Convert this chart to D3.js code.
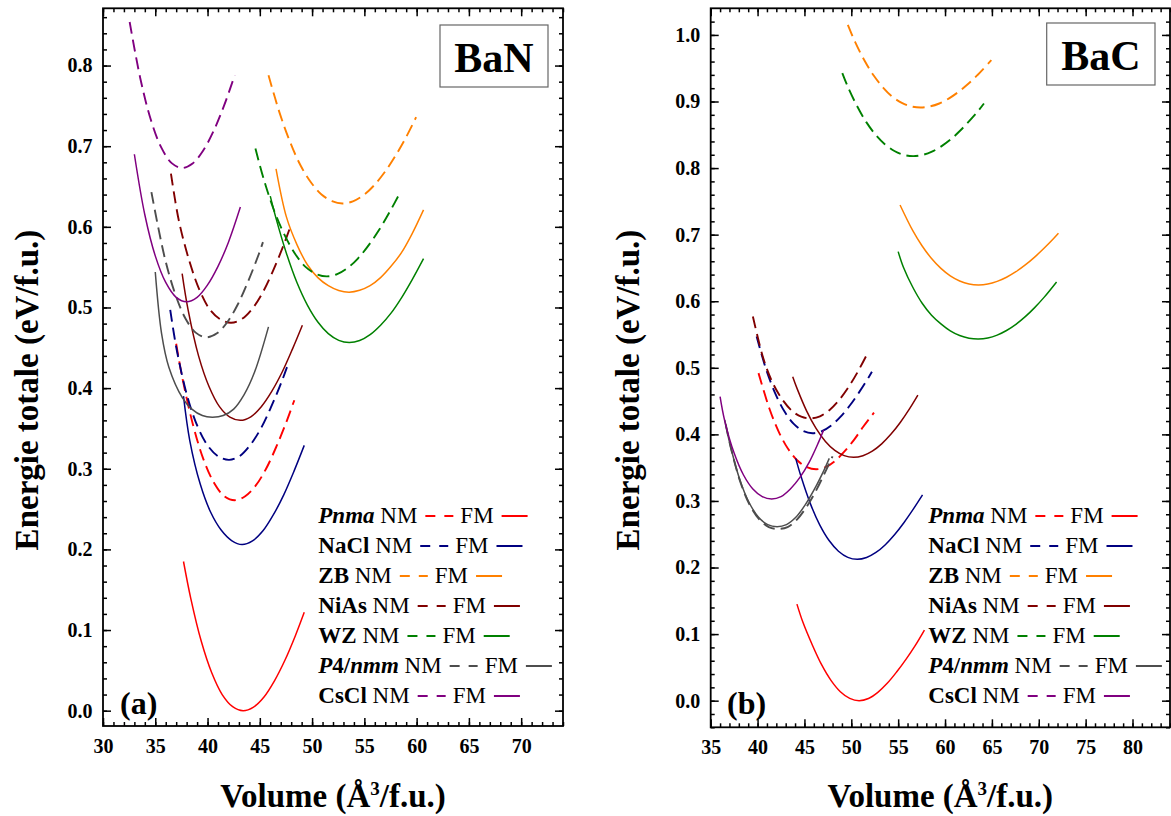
<!DOCTYPE html>
<html><head><meta charset="utf-8">
<script src="https://cdn.jsdelivr.net/npm/d3@7"></script>
<style>
body{margin:0;background:#fff}
svg{display:block}
text{font-family:"Liberation Serif","Times New Roman",serif;white-space:pre}
</style>
</head><body>
<svg id="c" width="1171" height="816"></svg>
<script>
// ---------- DATA (Volume Å^3/f.u., Energy eV/f.u.) ----------
const structures = ["Pnma","NaCl","ZB","NiAs","WZ","P4/nmm","CsCl"];

// BaN panel (a)
const BaN_Pnma_NM = [[37.0,0.455],[37.6,0.412],[38.6,0.355],[39.6,0.312],[40.6,0.283],[41.6,0.266],[42.6,0.261],[43.6,0.266],[44.6,0.279],[45.6,0.300],[46.6,0.328],[47.6,0.360],[48.3,0.385]];
const BaN_Pnma_FM = [[37.7,0.185],[38.4,0.139],[39.4,0.086],[40.4,0.047],[41.4,0.02],[42.4,0.005],[43.4,0.0],[44.4,0.0045],[45.4,0.017],[46.4,0.037],[47.4,0.0625],[48.4,0.093],[49.25,0.122]];
const BaN_NaCl_NM = [[36.43,0.497],[37.06,0.447],[38.06,0.39],[39.06,0.352],[40.06,0.328],[41.06,0.315],[42.06,0.311],[43.06,0.3156],[44.06,0.329],[45.06,0.349],[46.06,0.376],[47.06,0.407],[47.6,0.426]];
const BaN_NaCl_FM = [[37.7,0.39],[38.3,0.335],[39.3,0.281],[40.3,0.246],[41.3,0.224],[42.3,0.211],[43.3,0.206],[44.3,0.2105],[45.3,0.223],[46.3,0.243],[47.3,0.268],[48.3,0.298],[49.25,0.329]];
const BaN_ZB_NM = [[45.83,0.788],[46.9,0.741],[47.9,0.705],[48.9,0.676],[49.9,0.655],[50.9,0.640],[51.9,0.632],[52.9,0.629],[53.9,0.6316],[54.9,0.639],[55.9,0.651],[56.9,0.667],[57.9,0.6866],[58.9,0.709],[59.95,0.736]];
const BaN_ZB_FM = [[46.55,0.672],[47.55,0.612],[48.55,0.578],[49.55,0.553],[50.55,0.537],[51.55,0.527],[52.55,0.521],[53.55,0.519],[54.55,0.5213],[55.55,0.527],[56.55,0.537],[57.55,0.551],[58.55,0.568],[59.55,0.591],[60.66,0.621]];
const BaN_NiAs_NM = [[36.5,0.666],[37.25,0.608],[38.25,0.558],[39.25,0.521],[40.25,0.497],[41.25,0.485],[42.25,0.481],[43.25,0.4855],[44.25,0.498],[45.25,0.518],[46.25,0.545],[47.25,0.5765],[47.86,0.598]];
const BaN_NiAs_FM = [[37.57,0.542],[38.14,0.497],[39.14,0.44],[40.14,0.402],[41.14,0.377],[42.14,0.364],[43.14,0.36],[44.14,0.3644],[45.14,0.377],[46.14,0.396],[47.14,0.420],[48.14,0.449],[49.07,0.478]];
const BaN_WZ_NM = [[44.58,0.697],[45.4,0.658],[46.4,0.619],[47.4,0.589],[48.4,0.566],[49.4,0.550],[50.4,0.5415],[51.4,0.5386],[52.4,0.5413],[53.4,0.549],[54.4,0.561],[55.4,0.577],[56.4,0.596],[57.4,0.618],[58.4,0.642]];
const BaN_WZ_FM = [[46.0,0.638],[46.55,0.6105],[47.55,0.567],[48.55,0.531],[49.55,0.503],[50.55,0.482],[51.55,0.4676],[52.55,0.4592],[53.55,0.4565],[54.55,0.459],[55.55,0.4663],[56.55,0.478],[57.55,0.493],[58.55,0.512],[59.55,0.534],[60.66,0.5606]];
const BaN_P4nmm_NM = [[34.63,0.643],[35.9,0.562],[36.9,0.517],[37.9,0.486],[38.9,0.4685],[39.9,0.463],[40.9,0.468],[41.9,0.482],[42.9,0.504],[43.9,0.533],[44.9,0.566],[45.3,0.581]];
const BaN_P4nmm_FM = [[35.0,0.544],[35.6,0.468],[36.3,0.426],[37.6,0.388],[38.5,0.374],[39.5,0.366],[40.45,0.364],[41.5,0.366],[42.5,0.374],[43.5,0.392],[44.5,0.42],[45.83,0.476]];
const BaN_CsCl_NM = [[32.55,0.854],[33.57,0.784],[34.57,0.733],[35.57,0.6985],[36.57,0.679],[37.57,0.673],[38.57,0.6786],[39.57,0.6944],[40.57,0.7187],[41.57,0.750],[42.6,0.788]];
const BaN_CsCl_FM = [[33.0,0.69],[34.0,0.615],[35.0,0.564],[36.0,0.531],[37.0,0.5125],[38.0,0.507],[39.0,0.5126],[40.0,0.528],[41.0,0.551],[42.0,0.581],[43.14,0.6245]];

// BaC panel (b)
const BaC_Pnma_NM = [[40.1,0.492],[41.25,0.4393],[42.25,0.4042],[43.25,0.3783],[44.25,0.3607],[45.25,0.3508],[46.25,0.3476],[47.25,0.3508],[48.25,0.36],[49.25,0.374],[50.25,0.391],[51.25,0.411],[52.42,0.4326]];
const BaC_Pnma_FM = [[44.2,0.145],[44.83,0.118],[45.83,0.084],[46.83,0.054],[47.83,0.0305],[48.83,0.0135],[49.83,0.0035],[50.83,0.0],[51.83,0.0033],[52.83,0.0125],[53.83,0.026],[54.83,0.043],[55.83,0.062],[56.83,0.083],[57.8,0.106]];
const BaC_NaCl_NM = [[39.9,0.547],[40.86,0.5],[41.86,0.4624],[42.86,0.4346],[43.86,0.4157],[44.86,0.4051],[45.86,0.4017],[46.86,0.4048],[47.86,0.4134],[48.86,0.4267],[49.86,0.4437],[50.86,0.4638],[51.86,0.4859],[52.2,0.494]];
const BaC_NaCl_FM = [[44.07,0.364],[44.63,0.337],[45.63,0.296],[46.63,0.264],[47.63,0.2405],[48.63,0.2245],[49.63,0.2153],[50.63,0.2124],[51.63,0.2151],[52.63,0.2226],[53.63,0.2343],[54.63,0.2496],[55.63,0.2677],[56.63,0.288],[57.6,0.309]];
const BaC_ZB_NM = [[49.63,1.015],[50.39,0.99],[51.39,0.962],[52.39,0.939],[53.39,0.921],[54.39,0.907],[55.39,0.898],[56.39,0.8927],[57.39,0.891],[58.39,0.8926],[59.39,0.897],[60.39,0.9044],[61.39,0.914],[62.39,0.9255],[63.39,0.9388],[64.94,0.962]];
const BaC_ZB_FM = [[55.2,0.7446],[56.56,0.706],[57.56,0.683],[58.56,0.6642],[59.56,0.6493],[60.56,0.6381],[61.56,0.6304],[62.56,0.6259],[63.56,0.6245],[64.56,0.6258],[65.56,0.6298],[66.56,0.636],[67.56,0.6443],[68.56,0.6545],[69.56,0.6663],[70.56,0.6795],[71.56,0.6938],[72.1,0.702]];
const BaC_NiAs_NM = [[39.5,0.577],[40.66,0.512],[41.66,0.476],[42.66,0.452],[43.66,0.4355],[44.66,0.4265],[45.66,0.424],[46.66,0.4272],[47.66,0.4364],[48.66,0.451],[49.66,0.4702],[50.66,0.4933],[51.74,0.522]];
const BaC_NiAs_FM = [[43.75,0.4867],[44.24,0.468],[45.24,0.435],[46.24,0.409],[47.24,0.3894],[48.24,0.3759],[49.24,0.3681],[50.24,0.3656],[51.24,0.368],[52.24,0.3748],[53.24,0.3858],[54.24,0.4004],[55.24,0.4183],[56.24,0.4391],[57.1,0.459]];
const BaC_WZ_NM = [[49.04,0.9425],[49.6,0.923],[50.6,0.8935],[51.6,0.869],[52.6,0.85],[53.6,0.8355],[54.6,0.8257],[55.6,0.8198],[56.6,0.818],[57.6,0.8197],[58.6,0.8247],[59.6,0.8326],[60.6,0.843],[61.6,0.856],[62.6,0.871],[63.6,0.887],[64.15,0.897]];
const BaC_WZ_FM = [[55.0,0.6745],[55.56,0.651],[56.56,0.621],[57.56,0.597],[58.56,0.579],[59.56,0.566],[60.56,0.5555],[61.56,0.5485],[62.56,0.5445],[63.56,0.5433],[64.56,0.5448],[65.56,0.5491],[66.56,0.556],[67.56,0.5653],[68.56,0.5768],[69.56,0.5904],[70.56,0.6058],[71.9,0.629]];
const BaC_P4nmm_NM = [[36.6,0.415],[37.2,0.377],[38.2,0.327],[39.2,0.293],[40.2,0.272],[41.2,0.2608],[42.2,0.258],[43.2,0.2608],[44.2,0.272],[45.2,0.2905],[46.2,0.3145],[47.2,0.343],[48.0,0.367]];
const BaC_P4nmm_FM = [[36.5,0.4216],[37.08,0.384],[38.08,0.333],[39.08,0.298],[40.08,0.276],[41.08,0.2645],[42.08,0.2614],[43.08,0.2645],[44.08,0.2755],[45.08,0.294],[46.08,0.318],[47.08,0.346],[47.65,0.364]];
const BaC_CsCl_FM = [[36.0,0.4567],[36.5,0.42],[37.5,0.372],[38.5,0.339],[39.5,0.318],[40.5,0.3065],[41.5,0.303],[42.5,0.3065],[43.5,0.318],[44.5,0.335],[45.5,0.358],[46.5,0.388],[47.05,0.4066]];

// tick labels
const BaN_xTicks = [30,35,40,45,50,55,60,65,70];
const BaN_yTicks = [0.0,0.1,0.2,0.3,0.4,0.5,0.6,0.7,0.8];
const BaC_xTicks = [35,40,45,50,55,60,65,70,75,80];
const BaC_yTicks = [0.0,0.1,0.2,0.3,0.4,0.5,0.6,0.7,0.8,0.9,1.0];

// ---------- STYLE ----------
const colors = {"Pnma":"#ff0000","NaCl":"#000080","ZB":"#ff8000","NiAs":"#800000","WZ":"#008000","P4/nmm":"#4d4d4d","CsCl":"#800080"};
const labelParts = {"Pnma":[["Pnma",true]],"NaCl":[["NaCl",false]],"ZB":[["ZB",false]],"NiAs":[["NiAs",false]],"WZ":[["WZ",false]],"P4/nmm":[["P",true],["4/",false],["nmm",true]],"CsCl":[["CsCl",false]]};

const svg = d3.select("#c");

function panel(cfg){
  const x = d3.scaleLinear().domain(cfg.xdom).range([cfg.x0,cfg.x1]);
  const y = d3.scaleLinear().domain(cfg.ydom).range([cfg.y1,cfg.y0]);
  const g = svg.append("g");
  const clipId = "clip"+cfg.id;
  svg.append("defs").append("clipPath").attr("id",clipId).append("rect")
    .attr("x",cfg.x0).attr("y",cfg.y0).attr("width",cfg.x1-cfg.x0).attr("height",cfg.y1-cfg.y0);

  const line = d3.line().x(d=>x(d[0])).y(d=>y(d[1])).curve(d3.curveCatmullRom.alpha(0.5));
  const cg = g.append("g").attr("clip-path",`url(#${clipId})`);
  cfg.series.forEach(s=>{
    cg.append("path").attr("d",line(s.data)).attr("fill","none")
      .attr("stroke",colors[s.s]).attr("stroke-width",s.nm?1.9:1.5)
      .attr("stroke-dasharray",s.nm?"12,6":null);
  });

  // minor ticks
  const xr = d3.range(Math.ceil(cfg.xdom[0]), cfg.xdom[1]+0.001, 1);
  const yr = d3.range(0, cfg.ydom[1], 0.02).concat(d3.range(-0.02, cfg.ydom[0]-0.0001, -0.02));
  const axStyle = a=>{a.select(".domain").remove(); a.selectAll("line").attr("stroke","#000").attr("stroke-width",1.5);};
  g.append("g").attr("transform",`translate(0,${cfg.y1})`).call(d3.axisBottom(x).tickValues(xr).tickSize(-4).tickFormat("")).call(axStyle);
  g.append("g").attr("transform",`translate(0,${cfg.y0})`).call(d3.axisTop(x).tickValues(xr).tickSize(-4).tickFormat("")).call(axStyle);
  g.append("g").attr("transform",`translate(${cfg.x0},0)`).call(d3.axisLeft(y).tickValues(yr).tickSize(-4).tickFormat("")).call(axStyle);
  g.append("g").attr("transform",`translate(${cfg.x1},0)`).call(d3.axisRight(y).tickValues(yr).tickSize(-4).tickFormat("")).call(axStyle);
  // major ticks
  const lab = a=>{a.selectAll("text").attr("font-size",20).attr("font-weight","bold").attr("fill","#000").style("font-family",'"Liberation Serif","Times New Roman",serif');};
  g.append("g").attr("transform",`translate(0,${cfg.y1})`).call(d3.axisBottom(x).tickValues(cfg.xt).tickSize(-8).tickPadding(12.5).tickFormat(d3.format("d"))).call(axStyle).call(lab);
  g.append("g").attr("transform",`translate(0,${cfg.y0})`).call(d3.axisTop(x).tickValues(cfg.xt).tickSize(-8).tickFormat("")).call(axStyle);
  g.append("g").attr("transform",`translate(${cfg.x0},0)`).call(d3.axisLeft(y).tickValues(cfg.yt).tickSize(-8).tickPadding(10.5).tickFormat(d3.format(".1f"))).call(axStyle).call(lab);
  g.append("g").attr("transform",`translate(${cfg.x1},0)`).call(d3.axisRight(y).tickValues(cfg.yt).tickSize(-8).tickFormat("")).call(axStyle);

  // frame
  g.append("rect").attr("x",cfg.x0).attr("y",cfg.y0).attr("width",cfg.x1-cfg.x0).attr("height",cfg.y1-cfg.y0)
    .attr("fill","none").attr("stroke","#000").attr("stroke-width",1.8);

  // title box
  const b = cfg.box;
  g.append("rect").attr("x",b[0]).attr("y",b[1]).attr("width",b[2]-b[0]).attr("height",b[3]-b[1])
    .attr("fill","#fff").attr("stroke","#666").attr("stroke-width",1.2);
  g.append("text").attr("x",(b[0]+b[2])/2).attr("y",b[1]+47).attr("text-anchor","middle")
    .attr("font-size",42).attr("font-weight","bold").text(cfg.title);

  // panel letter
  g.append("text").attr("x",cfg.letterX).attr("y",714).attr("font-size",32).attr("font-weight","bold").text(cfg.letter);

  // axis titles
  const xc = (cfg.x0+cfg.x1)/2;
  const xt = g.append("text").attr("x",xc).attr("y",807).attr("text-anchor","middle").attr("font-size",33).attr("font-weight","bold");
  xt.append("tspan").text("Volume (Å");
  xt.append("tspan").attr("font-size",19).attr("dy",-12).text("3");
  xt.append("tspan").attr("dy",12).text("/f.u.)");
  g.append("text").attr("transform",`translate(${cfg.ylabX},390) rotate(-90)`).attr("text-anchor","middle")
    .attr("font-size",33).attr("font-weight","bold").text("Energie totale (eV/f.u.)");

  // legend
  structures.forEach((s,i)=>{
    const yy = 523 + i*30;
    const t = g.append("text").attr("x",cfg.legX).attr("y",yy).attr("font-size",23);
    labelParts[s].forEach(p=>t.append("tspan").attr("font-weight","bold").attr("font-style",p[1]?"italic":"normal").text(p[0]));
    t.append("tspan").text(" NM");
    let xx = cfg.legX + t.node().getComputedTextLength() + 8;
    g.append("line").attr("x1",xx).attr("x2",xx+28).attr("y1",yy-7).attr("y2",yy-7)
      .attr("stroke",colors[s]).attr("stroke-width",2).attr("stroke-dasharray","10,9");
    xx += 28 + 7;
    const f = g.append("text").attr("x",xx).attr("y",yy).attr("font-size",23).text("FM");
    xx += f.node().getComputedTextLength() + 8;
    g.append("line").attr("x1",xx).attr("x2",xx+26).attr("y1",yy-7).attr("y2",yy-7)
      .attr("stroke",colors[s]).attr("stroke-width",2);
  });
}

panel({id:"a", x0:103, x1:563, y0:8.3, y1:726, xdom:[30,74], ydom:[-0.019,0.871],
  xt:BaN_xTicks, yt:BaN_yTicks, box:[440,25,548,87], title:"BaN", letter:"(a)", letterX:120, ylabX:38, legX:318.3,
  series:[
    {s:"Pnma",nm:true,data:BaN_Pnma_NM},{s:"Pnma",nm:false,data:BaN_Pnma_FM},
    {s:"NaCl",nm:true,data:BaN_NaCl_NM},{s:"NaCl",nm:false,data:BaN_NaCl_FM},
    {s:"ZB",nm:true,data:BaN_ZB_NM},{s:"ZB",nm:false,data:BaN_ZB_FM},
    {s:"NiAs",nm:true,data:BaN_NiAs_NM},{s:"NiAs",nm:false,data:BaN_NiAs_FM},
    {s:"WZ",nm:true,data:BaN_WZ_NM},{s:"WZ",nm:false,data:BaN_WZ_FM},
    {s:"P4/nmm",nm:true,data:BaN_P4nmm_NM},{s:"P4/nmm",nm:false,data:BaN_P4nmm_FM},
    {s:"CsCl",nm:true,data:BaN_CsCl_NM},{s:"CsCl",nm:false,data:BaN_CsCl_FM}
  ]});

panel({id:"b", x0:710.7, x1:1170, y0:8.3, y1:727.3, xdom:[35,84], ydom:[-0.04,1.04],
  xt:BaC_xTicks, yt:BaC_yTicks, box:[1046.7,23,1155,85], title:"BaC", letter:"(b)", letterX:727, ylabX:639, legX:928.3,
  series:[
    {s:"Pnma",nm:true,data:BaC_Pnma_NM},{s:"Pnma",nm:false,data:BaC_Pnma_FM},
    {s:"NaCl",nm:true,data:BaC_NaCl_NM},{s:"NaCl",nm:false,data:BaC_NaCl_FM},
    {s:"ZB",nm:true,data:BaC_ZB_NM},{s:"ZB",nm:false,data:BaC_ZB_FM},
    {s:"NiAs",nm:true,data:BaC_NiAs_NM},{s:"NiAs",nm:false,data:BaC_NiAs_FM},
    {s:"WZ",nm:true,data:BaC_WZ_NM},{s:"WZ",nm:false,data:BaC_WZ_FM},
    {s:"P4/nmm",nm:true,data:BaC_P4nmm_NM},{s:"P4/nmm",nm:false,data:BaC_P4nmm_FM},
    {s:"CsCl",nm:false,data:BaC_CsCl_FM}
  ]});
</script>
</body></html>
